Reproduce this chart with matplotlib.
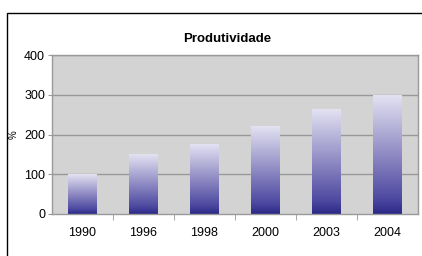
import matplotlib.pyplot as plt
import numpy as np
from matplotlib.colors import LinearSegmentedColormap
from matplotlib.patches import Rectangle

# dados
anos = ["1990", "1996", "1998", "2000", "2003", "2004"]
valores = [100, 150, 176, 221, 262, 297]
yticks = [0, 100, 200, 300, 400]

plt.rcParams["font.family"] = ["Liberation Sans", "DejaVu Sans"]

fig = plt.figure(figsize=(4.22, 2.56), dpi=100)
fig.patch.set_facecolor("white")

# moldura externa (cortada à direita e em baixo)
fig.patches.append(Rectangle((7 / 422, -0.1), 1.2, 0.1 + (256 - 13) / 256,
                             transform=fig.transFigure, fill=False,
                             edgecolor="black", linewidth=1.0))

ax = fig.add_axes([52 / 422, 42 / 256, 366 / 422, 159 / 256])
ax.set_facecolor("#d3d3d4")

# degradê das barras: escuro em baixo, claro em cima
cmap = LinearSegmentedColormap.from_list(
    "barra", [(0.0, "#2b2987"), (0.12, "#4c48a0"), (0.5, "#8f8ac3"), (1.0, "#e3e2f2")])
grad = np.linspace(0, 1, 256).reshape(-1, 1)
largura = 0.46

for yv in yticks[1:]:
    ax.axhline(yv, color="#999999", linewidth=1.0, zorder=1)

for i, v in enumerate(valores):
    ax.imshow(grad, extent=(i - largura / 2, i + largura / 2, 0, v),
              origin="lower", aspect="auto", cmap=cmap, zorder=2)

ax.set_xlim(-0.5, len(anos) - 0.5)
ax.set_ylim(0, 400)
ax.set_yticks(yticks)
ax.set_yticklabels([str(t) for t in yticks], fontsize=9)
ax.set_xticks(range(len(anos)))
ax.set_xticklabels(anos, fontsize=9)
ax.tick_params(axis="x", which="major", length=0, pad=9)
ax.set_xticks(np.arange(0.5, len(anos) - 0.5, 1), minor=True)
ax.tick_params(axis="x", which="minor", length=4, color="#999999", direction="out")
ax.tick_params(axis="y", length=3, color="#999999", pad=2)

for s in ax.spines.values():
    s.set_color("#999999")
    s.set_linewidth(1.0)

ax.set_ylabel("%", fontsize=7, labelpad=4)
ax.set_title("Produtividade", fontsize=9.5, fontweight="bold", pad=9, x=0.48)

fig.savefig("out.png", dpi=100)
